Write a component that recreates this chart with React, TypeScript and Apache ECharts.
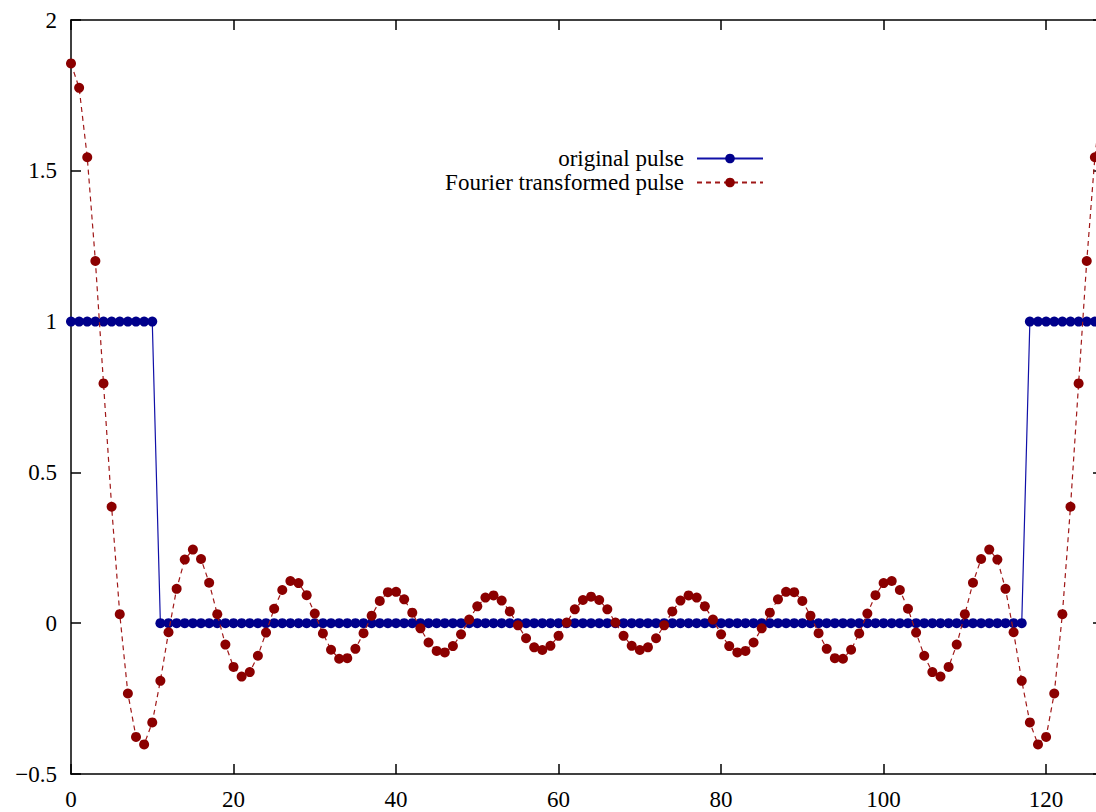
import React, { useEffect, useRef } from "react";
import * as echarts from "echarts";

const seriesNames = ["original pulse", "Fourier transformed pulse"];

const originalPulse = [
  1, 1, 1, 1, 1, 1, 1, 1, 1, 1,
  1, 0, 0, 0, 0, 0, 0, 0, 0, 0,
  0, 0, 0, 0, 0, 0, 0, 0, 0, 0,
  0, 0, 0, 0, 0, 0, 0, 0, 0, 0,
  0, 0, 0, 0, 0, 0, 0, 0, 0, 0,
  0, 0, 0, 0, 0, 0, 0, 0, 0, 0,
  0, 0, 0, 0, 0, 0, 0, 0, 0, 0,
  0, 0, 0, 0, 0, 0, 0, 0, 0, 0,
  0, 0, 0, 0, 0, 0, 0, 0, 0, 0,
  0, 0, 0, 0, 0, 0, 0, 0, 0, 0,
  0, 0, 0, 0, 0, 0, 0, 0, 0, 0,
  0, 0, 0, 0, 0, 0, 0, 0, 1, 1,
  1, 1, 1, 1, 1, 1, 1, 1,
];

const fourierPulse = [
  1.856, 1.775, 1.545, 1.201, 0.795, 0.386, 0.030, -0.233, -0.377, -0.402,
  -0.329, -0.191, -0.030, 0.114, 0.211, 0.244, 0.213, 0.134, 0.030, -0.071,
  -0.145, -0.177, -0.162, -0.108, -0.031, 0.048, 0.110, 0.140, 0.133, 0.093,
  0.032, -0.034, -0.088, -0.118, -0.116, -0.085, -0.033, 0.025, 0.074, 0.103,
  0.104, 0.079, 0.035, -0.017, -0.064, -0.092, -0.097, -0.076, -0.037, 0.012,
  0.056, 0.085, 0.092, 0.075, 0.039, -0.007, -0.050, -0.080, -0.089, -0.075,
  -0.042, 0.002, 0.046, 0.077, 0.088, 0.077, 0.046, 0.002, -0.042, -0.075,
  -0.089, -0.080, -0.050, -0.007, 0.039, 0.075, 0.092, 0.085, 0.056, 0.012,
  -0.037, -0.076, -0.097, -0.092, -0.064, -0.017, 0.035, 0.079, 0.104, 0.103,
  0.074, 0.025, -0.033, -0.085, -0.116, -0.118, -0.088, -0.034, 0.032, 0.093,
  0.133, 0.140, 0.110, 0.048, -0.031, -0.108, -0.162, -0.177, -0.145, -0.071,
  0.030, 0.134, 0.213, 0.244, 0.211, 0.114, -0.030, -0.191, -0.329, -0.402,
  -0.377, -0.233, 0.030, 0.386, 0.795, 1.201, 1.545, 1.775,
];

const xMin = 0;
const xMax = 127;
const xInterval = 20;
const yMin = -0.5;
const yMax = 2;
const yInterval = 0.5;

const FONT = '"Liberation Serif", "Times New Roman", serif';
const CHART_W = 1140;
const CHART_H = 812;

export default function App() {
  const ref = useRef<HTMLDivElement>(null);

  useEffect(() => {
    if (!ref.current) return;
    const chart = echarts.init(ref.current, undefined, { renderer: "svg" });
    const axisLine = { show: true, onZero: false, lineStyle: { color: "#000", width: 1.5 } };
    const tick = { show: true, inside: true, length: 10, lineStyle: { color: "#000", width: 1.5 } };
    const legendBase = {
      orient: "horizontal",
      align: "right",
      right: CHART_W - 764,
      itemWidth: 66,
      itemHeight: 12,
      padding: 0,
      selectedMode: false,
      textStyle: { fontSize: 23, fontFamily: FONT, color: "#000", padding: [0, 8, 0, 0] },
    };
    chart.setOption({
      animation: false,
      backgroundColor: "#fff",
      grid: { left: 71, right: 37, top: 20, bottom: 38, containLabel: false },
      legend: [
        { ...legendBase, data: [seriesNames[0]], top: 147 },
        { ...legendBase, data: [seriesNames[1]], top: 171 },
      ],
      xAxis: [
        {
          type: "value",
          min: xMin,
          max: xMax,
          interval: xInterval,
          position: "bottom",
          axisLine,
          axisTick: tick,
          splitLine: { show: false },
          axisLabel: {
            show: true,
            showMaxLabel: false,
            fontSize: 23,
            fontFamily: FONT,
            color: "#000",
            margin: 14,
          },
        },
        {
          type: "value",
          min: xMin,
          max: xMax,
          interval: xInterval,
          position: "top",
          axisLine,
          axisTick: tick,
          splitLine: { show: false },
          axisLabel: { show: false },
        },
      ],
      yAxis: [
        {
          type: "value",
          min: yMin,
          max: yMax,
          interval: yInterval,
          position: "left",
          axisLine,
          axisTick: tick,
          splitLine: { show: false },
          axisLabel: {
            fontSize: 23,
            fontFamily: FONT,
            color: "#000",
            margin: 14,
            formatter: (v: number) => (v < 0 ? "\u2212" + Math.abs(v) : String(v)),
          },
        },
        {
          type: "value",
          min: yMin,
          max: yMax,
          interval: yInterval,
          position: "right",
          axisLine,
          axisTick: tick,
          splitLine: { show: false },
          axisLabel: { show: false },
        },
      ],
      series: [
        {
          name: seriesNames[0],
          type: "line",
          xAxisIndex: 0,
          yAxisIndex: 0,
          data: originalPulse.map((v, i) => [i, v]),
          symbol: "circle",
          symbolSize: 10,
          showAllSymbol: true,
          itemStyle: { color: "#00008b" },
          lineStyle: { color: "#1010a8", width: 1.2 },
          emphasis: { disabled: true },
          z: 2,
        },
        {
          name: seriesNames[1],
          type: "line",
          xAxisIndex: 0,
          yAxisIndex: 0,
          data: fourierPulse.map((v, i) => [i, v]),
          symbol: "circle",
          symbolSize: 10,
          showAllSymbol: true,
          itemStyle: { color: "#8b0000" },
          lineStyle: { color: "#a01818", width: 1.2, type: [5, 4] },
          emphasis: { disabled: true },
          z: 3,
        },
      ],
    });
    return () => chart.dispose();
  }, []);

  return (
    <div
      style={{
        position: "absolute",
        left: 0,
        top: 0,
        width: 1096,
        height: 812,
        overflow: "hidden",
        background: "#fff",
      }}
    >
      <div ref={ref} style={{ width: CHART_W, height: CHART_H }} />
    </div>
  );
}
